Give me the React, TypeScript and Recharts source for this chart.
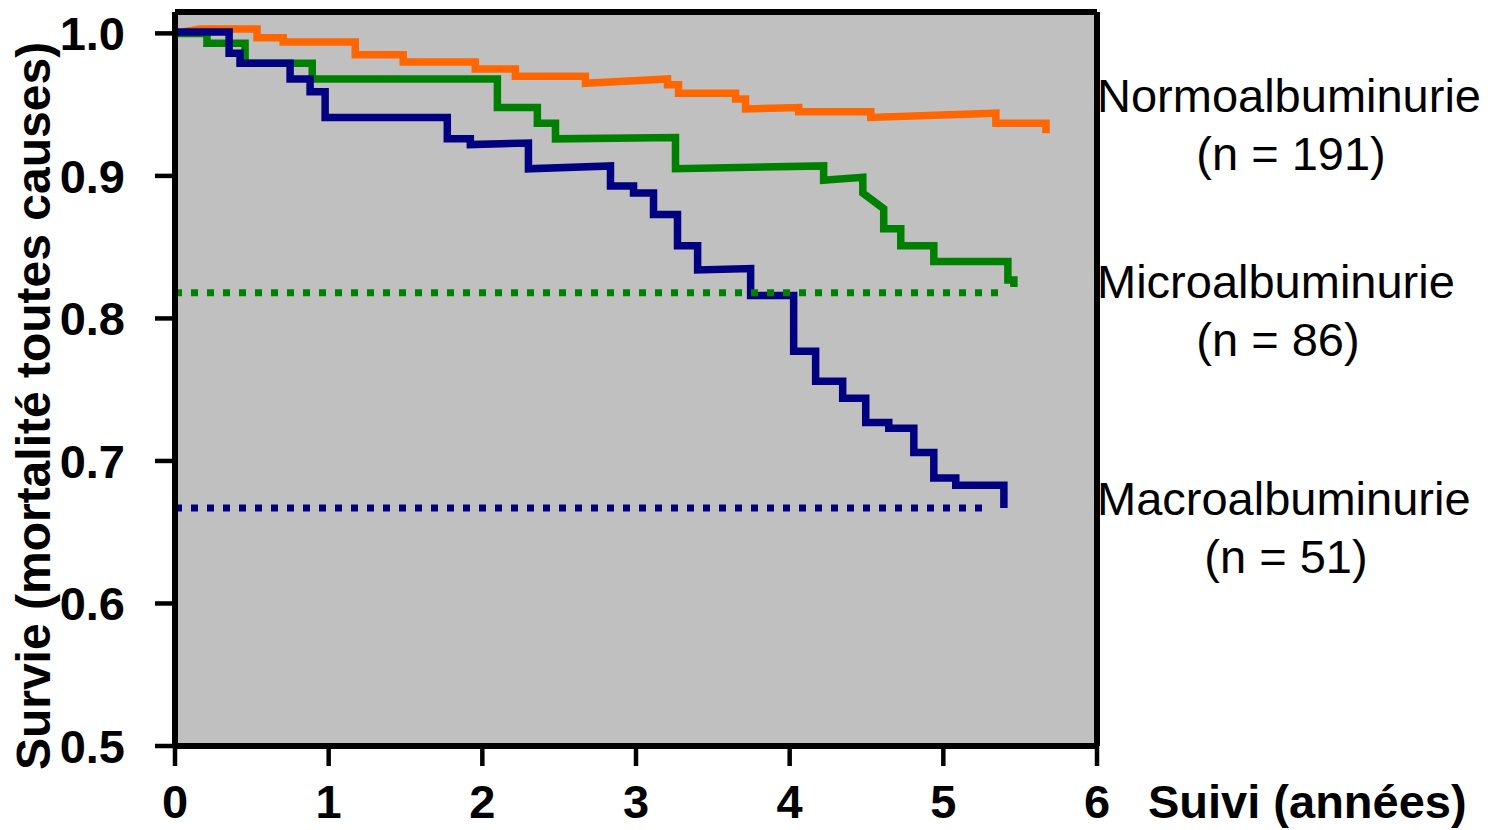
import React from 'react';
import { LineChart, Line, XAxis, YAxis, CartesianGrid, ReferenceLine } from 'recharts';

const FONT = '"Liberation Sans", Arial, sans-serif';

// years of follow-up / survival
const normoT = [0, 0.163, 0.534, 0.534, 0.704, 0.704, 1.173, 1.173, 1.485, 1.485, 1.954, 1.954, 2.215, 2.215, 2.671, 2.671, 3.205, 3.205, 3.277, 3.277, 3.648, 3.648, 3.713, 3.713, 4.059, 4.059, 4.528, 4.528, 5.342, 5.342, 5.668, 5.668];
const normoS = [1.0, 1.003, 1.003, 0.997, 0.997, 0.994, 0.994, 0.985, 0.985, 0.98, 0.98, 0.975, 0.975, 0.97, 0.97, 0.965, 0.968, 0.964, 0.964, 0.958, 0.958, 0.954, 0.954, 0.947, 0.948, 0.945, 0.945, 0.941, 0.944, 0.937, 0.937, 0.93];

const microT = [0, 0.208, 0.208, 0.456, 0.456, 0.893, 0.893, 2.098, 2.098, 2.358, 2.358, 2.476, 2.476, 3.257, 3.257, 4.221, 4.221, 4.476, 4.476, 4.612, 4.612, 4.723, 4.723, 4.938, 4.938, 5.42, 5.42, 5.459, 5.459];
const microS = [1.0, 1.0, 0.993, 0.993, 0.979, 0.979, 0.968, 0.968, 0.948, 0.948, 0.937, 0.937, 0.926, 0.927, 0.905, 0.907, 0.897, 0.899, 0.888, 0.877, 0.863, 0.863, 0.851, 0.851, 0.84, 0.84, 0.827, 0.827, 0.822];

const macroT = [0, 0.352, 0.352, 0.423, 0.423, 0.749, 0.749, 0.879, 0.879, 0.977, 0.977, 1.772, 1.772, 1.922, 1.922, 2.3, 2.3, 2.834, 2.834, 2.984, 2.984, 3.114, 3.114, 3.27, 3.27, 3.401, 3.401, 3.746, 3.746, 4.026, 4.026, 4.169, 4.169, 4.345, 4.345, 4.495, 4.495, 4.645, 4.645, 4.808, 4.808, 4.938, 4.938, 5.081, 5.081, 5.394, 5.394];
const macroS = [1.001, 1.001, 0.986, 0.986, 0.979, 0.979, 0.968, 0.968, 0.959, 0.959, 0.941, 0.941, 0.926, 0.926, 0.922, 0.923, 0.905, 0.907, 0.893, 0.893, 0.888, 0.888, 0.873, 0.873, 0.851, 0.851, 0.834, 0.835, 0.816, 0.816, 0.777, 0.777, 0.756, 0.756, 0.744, 0.744, 0.727, 0.727, 0.723, 0.723, 0.706, 0.706, 0.688, 0.688, 0.683, 0.683, 0.667];

// dotted reference levels
const microRefT = [0, 5.375];
const microRefS = [0.818, 0.818];
const macroRefT = [0, 5.257];
const macroRefS = [0.667, 0.667];

const xTicks = [0, 1, 2, 3, 4, 5, 6];
const yTicks = [0.5, 0.6, 0.7, 0.8, 0.9, 1.0];

const groups = [
  { name: 'Normoalbuminurie', n: '(n = 191)', y: 112, cx: 1291 },
  { name: 'Microalbuminurie', n: '(n = 86)', y: 298, cx: 1278 },
  { name: 'Macroalbuminurie', n: '(n = 51)', y: 515, cx: 1286 },
];

const toPoints = (t: number[], s: number[]) => t.map((x, i) => ({ t: x, v: s[i] }));

const tickStyle = { fontSize: 47, fontWeight: 700, fill: '#000', fontFamily: FONT };

export default function App() {
  return (
    <div style={{ position: 'absolute', left: 0, top: 0, width: 1491, height: 830, background: '#fff' }}>
      <LineChart width={1491} height={830} margin={{ top: 12, right: 394, bottom: 24, left: 75 }}>
        <CartesianGrid fill="#c0c0c0" horizontal={false} vertical={false} />
        <XAxis
          type="number"
          dataKey="t"
          domain={[0, 6]}
          ticks={xTicks}
          height={60}
          tickSize={20}
          tickMargin={19}
          tick={tickStyle}
          axisLine={{ stroke: '#000', strokeWidth: 6 }}
          tickLine={{ stroke: '#000', strokeWidth: 4.5 }}
          allowDataOverflow
        />
        <YAxis
          type="number"
          dataKey="v"
          domain={[0.5, 1.015]}
          ticks={yTicks}
          width={100}
          tickSize={20}
          tickMargin={30}
          tick={tickStyle}
          tickFormatter={(v: number) => v.toFixed(1)}
          axisLine={{ stroke: '#000', strokeWidth: 6 }}
          tickLine={{ stroke: '#000', strokeWidth: 4.5 }}
          allowDataOverflow
        />
        <ReferenceLine y={1.015} stroke="#000" strokeWidth={6} />
        <ReferenceLine x={6} stroke="#000" strokeWidth={6} />
        <Line data={toPoints(normoT, normoS)} dataKey="v" type="linear" stroke="#ff6600" strokeWidth={7.5} dot={false} activeDot={false} isAnimationActive={false} />
        <Line data={toPoints(microT, microS)} dataKey="v" type="linear" stroke="#008000" strokeWidth={7.5} dot={false} activeDot={false} isAnimationActive={false} />
        <Line data={toPoints(macroT, macroS)} dataKey="v" type="linear" stroke="#000080" strokeWidth={7.5} dot={false} activeDot={false} isAnimationActive={false} />
        <Line data={toPoints(microRefT, microRefS)} dataKey="v" type="linear" stroke="#008000" strokeWidth={7} strokeDasharray="7 9" dot={false} activeDot={false} isAnimationActive={false} />
        <Line data={toPoints(macroRefT, macroRefS)} dataKey="v" type="linear" stroke="#000080" strokeWidth={7} strokeDasharray="7 9" dot={false} activeDot={false} isAnimationActive={false} />
      </LineChart>
      <svg width={1491} height={830} style={{ position: 'absolute', left: 0, top: 0, pointerEvents: 'none' }}>
        <text
          transform="translate(50 406) rotate(-90)"
          textAnchor="middle"
          fontSize={48}
          fontWeight={700}
          fontFamily={FONT}
          fill="#000"
        >
          Survie (mortalité toutes causes)
        </text>
        <text x={1148} y={818} fontSize={47} fontWeight={700} fontFamily={FONT} fill="#000">
          Suivi (années)
        </text>
        {groups.map((g) => (
          <g key={g.name}>
            <text x={1097} y={g.y} fontSize={47} fontFamily={FONT} fill="#000">{g.name}</text>
            <text x={g.cx} y={g.y + 58} textAnchor="middle" fontSize={47} fontFamily={FONT} fill="#000">{g.n}</text>
          </g>
        ))}
      </svg>
    </div>
  );
}
